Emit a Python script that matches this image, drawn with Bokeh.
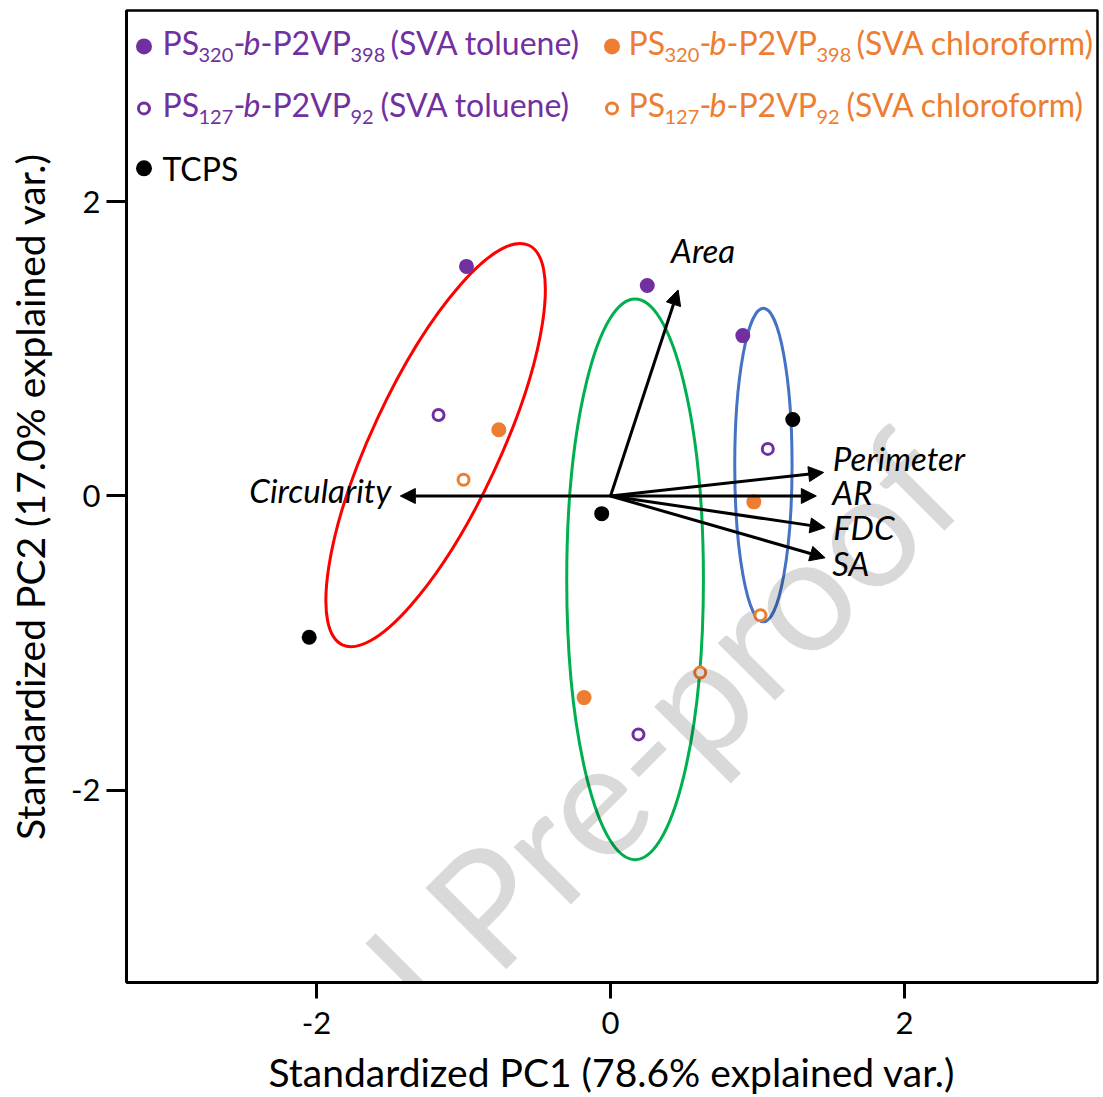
import numpy as np
from bokeh.plotting import figure
from bokeh.models import Range1d, FixedTicker, Arrow, NormalHead, Label
from bokeh.embed import file_html
from bokeh.resources import INLINE

# ---------------- data ----------------
ps320_tol_pc1 = [-0.98, 0.25, 0.90]
ps320_tol_pc2 = [1.56, 1.43, 1.09]
ps127_tol_pc1 = [-1.17, 1.07, 0.19]
ps127_tol_pc2 = [0.55, 0.32, -1.62]
ps320_chl_pc1 = [-0.76, 0.975, -0.18]
ps320_chl_pc2 = [0.45, -0.04, -1.37]
ps127_chl_pc1 = [-1.00, 1.02, 0.61]
ps127_chl_pc2 = [0.11, -0.81, -1.20]
tcps_pc1 = [-2.05, -0.06, 1.24]
tcps_pc2 = [-0.96, -0.12, 0.52]

loading_names = ["Area", "Circularity", "Perimeter", "AR", "FDC", "SA"]
loading_pc1 = [0.46, -1.43, 1.45, 1.40, 1.46, 1.46]
loading_pc2 = [1.40, 0.00, 0.16, 0.00, -0.215, -0.42]

ellipse_cx = [-1.19, 0.167, 1.04]
ellipse_cy = [0.346, -0.567, 0.21]
ellipse_w = [3.00, 0.93, 0.39]
ellipse_h = [0.87, 3.81, 2.13]
ellipse_angle = [65, 0, 0]

x_ticks = [-2, 0, 2]
x_tick_labels = ["-2", "0", "2"]
y_ticks = [-2, 0, 2]
y_tick_labels = ["-2", "0", "2"]
x_title = "Standardized PC1 (78.6% explained var.)"
y_title = "Standardized PC2 (17.0% explained var.)"
watermark = "Journal Pre-proof"

# ---------------- style ----------------
PURPLE = "#7030A0"
ORANGE = "#ED7D31"
ELL_COLORS = ["#FF0000", "#00B050", "#4472C4"]
FONT = "Lato"
BASE_FIX = 0.43   # empirical shift (in em) that puts a Label's alphabetic baseline where asked

# picture geometry (px from the picture's top-left)
FRAME_L, FRAME_R, FRAME_T, FRAME_B = 126, 1097, 10, 983
X_LO, X_HI = -3.293, 3.313
Y_LO, Y_HI = -3.306, 3.299
W, H = 1103, 1097


def px2x(px):
    return X_LO + (px - FRAME_L) * (X_HI - X_LO) / (FRAME_R - FRAME_L)


def px2y(py):
    return Y_HI - (py - FRAME_T) * (Y_HI - Y_LO) / (FRAME_B - FRAME_T)


p = figure(width=W, height=H, output_backend="svg", toolbar_location=None,
           x_range=Range1d(X_LO, X_HI), y_range=Range1d(Y_LO, Y_HI),
           min_border_left=FRAME_L, min_border_right=W - FRAME_R,
           min_border_top=FRAME_T, min_border_bottom=H - FRAME_B)
p.grid.visible = False
p.background_fill_color = "white"
p.border_fill_color = "white"
p.outline_line_color = "black"
p.outline_line_width = 2.5

p.xaxis.ticker = FixedTicker(ticks=x_ticks)
p.yaxis.ticker = FixedTicker(ticks=y_ticks)
p.xaxis.major_label_overrides = {t: l for t, l in zip(x_ticks, x_tick_labels)}
p.yaxis.major_label_overrides = {t: l for t, l in zip(y_ticks, y_tick_labels)}
p.axis.axis_line_width = 3
p.axis.major_tick_line_width = 3
p.axis.major_tick_in = 0
p.xaxis.major_tick_out = 16
p.yaxis.major_tick_out = 20
p.axis.minor_tick_line_color = None
p.axis.major_label_text_font = FONT
p.axis.major_label_text_font_size = "31px"
p.axis.major_label_text_color = "black"
p.xaxis.major_label_standoff = 13
p.yaxis.major_label_standoff = 6
p.xaxis.axis_label = x_title
p.yaxis.axis_label = y_title
p.axis.axis_label_text_font = FONT
p.axis.axis_label_text_font_size = "39px"
p.axis.axis_label_text_font_style = "normal"
p.axis.axis_label_text_color = "black"
p.xaxis.axis_label_standoff = 12
p.yaxis.axis_label_standoff = 15

# ellipses
p.ellipse(x=ellipse_cx, y=ellipse_cy, width=ellipse_w, height=ellipse_h,
          angle=ellipse_angle, angle_units="deg", fill_color=None,
          line_color=ELL_COLORS, line_width=3)

# loading arrows
for name, lx, ly in zip(loading_names, loading_pc1, loading_pc2):
    p.add_layout(Arrow(end=NormalHead(size=15, fill_color="black", line_color="black", line_width=1),
                       x_start=0, y_start=0, x_end=lx, y_end=ly,
                       line_color="black", line_width=3))

ARROW_FS = 33
label_dx = [25, -9, 9, 16, 8, 7]
label_dy = [26, -8, 0, -10, -14, -19]
label_align = ["center", "right", "left", "left", "left", "left"]
for name, lx, ly, dx, dy, al in zip(loading_names, loading_pc1, loading_pc2, label_dx, label_dy, label_align):
    p.add_layout(Label(x=lx, y=ly, x_offset=dx, y_offset=dy + BASE_FIX * ARROW_FS, text=name,
                       text_align=al, text_baseline="alphabetic",
                       text_font=FONT, text_font_size=f"{ARROW_FS}px", text_font_style="italic",
                       text_color="black"))

# points
FILLED = 15
OPEN = 11
p.scatter(ps320_tol_pc1, ps320_tol_pc2, size=FILLED, fill_color=PURPLE, line_color=None)
p.scatter(ps127_tol_pc1, ps127_tol_pc2, size=OPEN, fill_color="white", line_color=PURPLE, line_width=3)
p.scatter(ps320_chl_pc1, ps320_chl_pc2, size=FILLED, fill_color=ORANGE, line_color=None)
p.scatter(ps127_chl_pc1, ps127_chl_pc2, size=OPEN, fill_color="white", line_color=ORANGE, line_width=3)
p.scatter(tcps_pc1, tcps_pc2, size=FILLED, fill_color="black", line_color=None)

# ---------------- legend (manual, with sub-scripts and italics) ----------------
LEG_MAIN = 32
LEG_SUB = 20
SUB_DROP = 7


def legend_entry(marker_px, marker_py, text_px, base_py, color, filled, pieces):
    if filled:
        p.scatter([px2x(marker_px)], [px2y(marker_py)], size=FILLED + 1, fill_color=color, line_color=None)
    else:
        p.scatter([px2x(marker_px)], [px2y(marker_py)], size=OPEN, fill_color="white",
                  line_color=color, line_width=3)
    x = text_px
    for txt, kind, adv in pieces:
        fs = LEG_SUB if kind == "s" else LEG_MAIN
        y = base_py + (SUB_DROP if kind == "s" else 0)
        p.add_layout(Label(x=px2x(x), y=px2y(y), y_offset=BASE_FIX * fs, text=txt,
                           text_align="left", text_baseline="alphabetic", text_font=FONT,
                           text_font_size=f"{fs}px",
                           text_font_style="italic" if kind == "i" else "normal",
                           text_color=color))
        x += adv


def block_pieces(n1, n2, solvent, w2):
    return [("PS", "n", 36), (n1, "s", 35), ("-", "n", 10), ("b", "i", 17),
            ("-P2VP", "n", 90), (n2, "s", w2), (solvent, "n", 0)]


legend_entry(143.5, 46, 162, 56, PURPLE, True, block_pieces("320", "398", "(SVA toluene)", 40))
legend_entry(611.5, 46, 628, 56, ORANGE, True, block_pieces("320", "398", "(SVA chloroform)", 40))
legend_entry(143.5, 108, 162, 118, PURPLE, False, block_pieces("127", "92", "(SVA toluene)", 30))
legend_entry(611.5, 108, 628, 118, ORANGE, False, block_pieces("127", "92", "(SVA chloroform)", 30))
legend_entry(143.5, 168, 162, 182, "black", True, [("TCPS", "n", 0)])

# watermark (rotated; baseline fix applied perpendicular to its baseline)
WM_FS = 160
wm_fix = BASE_FIX * WM_FS * np.sqrt(0.5)
p.add_layout(Label(x=px2x(544), y=px2y(941), x_offset=-wm_fix, y_offset=wm_fix,
                   text=watermark, angle=45, angle_units="deg",
                   text_align="center", text_baseline="alphabetic", text_font=FONT,
                   text_font_size=f"{WM_FS}px", text_color="black", text_alpha=0.15,
                   level="overlay"))

open("out.html", "w").write(file_html(p, INLINE))
